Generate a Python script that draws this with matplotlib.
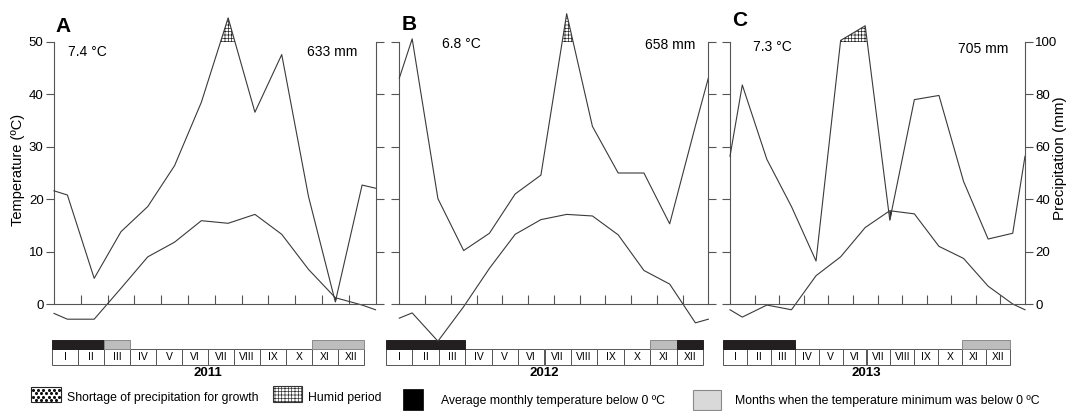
"""
Walter-Lieth style climate diagrams, 2011-2013
"""
import numpy as np
import matplotlib.pyplot as plt
from matplotlib.patches import Rectangle

plt.rcParams['font.family'] = ['Liberation Sans', 'DejaVu Sans']
plt.rcParams['hatch.linewidth'] = 0.5

months = ['I', 'II', 'III', 'IV', 'V', 'VI', 'VII', 'VIII', 'IX', 'X', 'XI', 'XII']
years = ['2011', '2012', '2013']
letters = ['A', 'B', 'C']
mean_temp = ['7.4 °C', '6.8 °C', '7.3 °C']
annual_prec = ['633 mm', '658 mm', '705 mm']

# first and last value = value drawn on the axis (year wrap), then Jan..Dec in between
temp_2011 = [-1.8, -2.9, -2.9, 3.0, 9.0, 11.8, 15.9, 15.4, 17.1, 13.3, 6.6, 1.2, -0.2, -1.1]
temp_2012 = [-2.7, -1.7, -7.1, -0.5, 6.8, 13.3, 16.1, 17.1, 16.8, 13.2, 6.4, 3.8, -3.6, -2.9]
temp_2013 = [-1.1, -2.5, -0.2, -1.1, 5.4, 9.0, 14.6, 17.8, 17.2, 11.0, 8.7, 3.4, 0.0, -1.1]

prec_2011 = [43.2, 41.6, 9.8, 27.6, 37.2, 52.8, 77.0, 109.2, 73.2, 95.2, 41.0, 0.8, 45.4, 44.2]
prec_2012 = [86.2, 101.2, 40.2, 20.4, 27.0, 42.0, 49.2, 110.8, 67.8, 50.0, 50.0, 30.6, 68.0, 86.2]
prec_2013 = [56.4, 83.6, 55.2, 37.2, 16.4, 100.6, 106.2, 32.0, 78.0, 79.6, 46.8, 24.8, 27.0, 56.4]

# 0 = nothing, 1 = mean temperature below 0, 2 = minimum temperature below 0
frost_2011 = [1, 1, 2, 0, 0, 0, 0, 0, 0, 0, 2, 2]
frost_2012 = [1, 1, 1, 0, 0, 0, 0, 0, 0, 0, 2, 1]
frost_2013 = [1, 1, 1, 0, 0, 0, 0, 0, 0, 0, 2, 2]

temps = [temp_2011, temp_2012, temp_2013]
precs = [prec_2011, prec_2012, prec_2013]
frosts = [frost_2011, frost_2012, frost_2013]

W, H = 1068, 411
LINE = '#3a3a3a'
AXC = '#555555'
BLACK = '#231f20'
GREY = '#bdbdbd'

# pixel layout
panel_px = [(54, 375.5), (399.3, 708.3), (730, 1025)]
box_px = [(52, 364), (386, 703), (723, 1010)]
letter_px = [(55, 27), (402, 24), (732, 21)]
tmean_px = [(68, 52), (442, 44), (753, 47)]
prec_px = [(357, 52), (695, 45), (1008, 49)]
y_zero, px_per_deg = 304, 5.24
ylo, yhi = -8, 56


def rect(x0, x1, ytop, ybot):
    return [x0 / W, 1 - ybot / H, (x1 - x0) / W, (ybot - ytop) / H]


fig = plt.figure(figsize=(W / 100, H / 100), dpi=100)

x = np.concatenate(([0], np.arange(12) + 0.5, [12]))

for i in range(3):
    t = np.array(temps[i])
    p = np.array(precs[i])
    x0, x1 = panel_px[i]
    ax = fig.add_axes(rect(x0, x1, y_zero - yhi * px_per_deg, y_zero - ylo * px_per_deg))
    ax.patch.set_visible(False)
    ax.set_zorder(3)
    ax.set_xlim(0, 12)
    ax.set_ylim(ylo, yhi)
    ax.plot(x, t, color=LINE, lw=0.8, clip_on=False)

    axp = ax.twinx()
    axp.set_ylim(2 * ylo, 2 * yhi)
    axp.plot(x, p, color=LINE, lw=0.8, clip_on=False)
    axp.fill_between(x, 100, p, where=p > 100, interpolate=True,
                     facecolor='white', edgecolor='#222222', hatch='+++++', lw=0)
    axp.fill_between(x, p, 2 * t, where=2 * t > p, interpolate=True,
                     facecolor='#222222', edgecolor='#222222', lw=0)

    for a in (ax, axp):
        for s in a.spines.values():
            s.set_color(AXC)
            s.set_linewidth(0.8)
        a.spines['top'].set_visible(False)
    ax.spines['right'].set_visible(False)
    axp.spines['left'].set_visible(False)
    axp.spines['bottom'].set_visible(False)
    ax.spines['left'].set_bounds(0, 50)
    axp.spines['right'].set_bounds(0, 100)
    ax.spines['bottom'].set_position(('data', 0))
    ax.spines['bottom'].set_bounds(0, 12)

    ax.set_xticks(range(1, 12))
    ax.tick_params(axis='x', direction='in', length=6.5, width=0.8,
                   color=AXC, labelbottom=False)
    ax.set_yticks(range(0, 51, 10))
    ax.tick_params(axis='y', direction='out', length=5.5, width=0.8,
                   color=AXC, labelleft=(i == 0), labelsize=9.5, pad=2)
    axp.set_yticks(range(0, 101, 20))
    axp.tick_params(axis='y', direction='out', length=5.5, width=0.8,
                    color=AXC, labelright=(i == 2), labelsize=9.5, pad=2)

    lx, ly = letter_px[i]
    fig.text(lx / W, 1 - ly / H, letters[i], ha='left', va='center',
             fontsize=15, fontweight='bold')
    tx, ty = tmean_px[i]
    fig.text(tx / W, 1 - ty / H, mean_temp[i], ha='left', va='center', fontsize=10)
    px, py = prec_px[i]
    fig.text(px / W, 1 - py / H, annual_prec[i], ha='right', va='center', fontsize=10)

    # month boxes with frost bars
    b0, b1 = box_px[i]
    axb = fig.add_axes(rect(b0, b1, 339, 365))
    axb.set_xlim(0, 12)
    axb.set_ylim(26, 0)
    axb.axis('off')
    for m, name in enumerate(months):
        axb.add_patch(Rectangle((m, 10), 1, 15.5, facecolor='white',
                                edgecolor=AXC, lw=0.7, clip_on=False))
        axb.text(m + 0.5, 18, name, ha='center', va='center', fontsize=7.5)
    fr = frosts[i]
    m = 0
    while m < 12:
        if fr[m] == 0:
            m += 1
            continue
        start = m
        while m < 12 and fr[m] == fr[start]:
            m += 1
        if fr[start] == 1:
            fc, ec = BLACK, BLACK
        else:
            fc, ec = GREY, '#8a8a8a'
        axb.add_patch(Rectangle((start, 0.5), m - start, 9.5, facecolor=fc,
                                edgecolor=ec, lw=0.7, clip_on=False))
    fig.text((b0 + b1) / 2 / W, 1 - 373 / H, years[i], ha='center', va='center',
             fontsize=9.5, fontweight='bold')

fig.text(18 / W, 1 - 170 / H, 'Temperature (ºC)', rotation=90,
         ha='center', va='center', fontsize=10.5)
fig.text(1060 / W, 1 - 158 / H, 'Precipitation (mm)', rotation=90,
         ha='center', va='center', fontsize=11)

# legend
axl = fig.add_axes([0, 0, 1, 1])
axl.set_xlim(0, W)
axl.set_ylim(H, 0)
axl.axis('off')
sw = Rectangle((31, 387), 30, 15, facecolor='white', edgecolor='#222222', lw=0.8)
axl.add_patch(sw)
# staggered dot pattern inside the swatch
dx, dy = [], []
for r, yy in enumerate(np.arange(389.5, 402, 3.6)):
    off = 0 if r % 2 == 0 else 2.6
    for xx in np.arange(33 + off, 60, 5.2):
        dx.append(xx)
        dy.append(yy)
dots = axl.scatter(dx, dy, s=5, color='#111111', lw=0)
dots.set_clip_path(sw)
axl.add_patch(Rectangle((273, 386), 29, 16, facecolor='white', edgecolor='#333333',
                        hatch='+++++', lw=0.8))
axl.add_patch(Rectangle((403, 389), 20, 21, facecolor='black', edgecolor='black', lw=0.5))
axl.add_patch(Rectangle((693, 390), 28, 20, facecolor='#d9d9d9', edgecolor='#8a8a8a', lw=0.8))
axl.text(67, 398, 'Shortage of precipitation for growth', va='center', fontsize=8.8)
axl.text(308, 398, 'Humid period', va='center', fontsize=8.8)
axl.text(441, 401, 'Average monthly temperature below 0 ºC', va='center', fontsize=8.8)
axl.text(735, 401, 'Months when the temperature minimum was below 0 ºC', va='center', fontsize=8.8)

fig.savefig('out.png', dpi=100)
